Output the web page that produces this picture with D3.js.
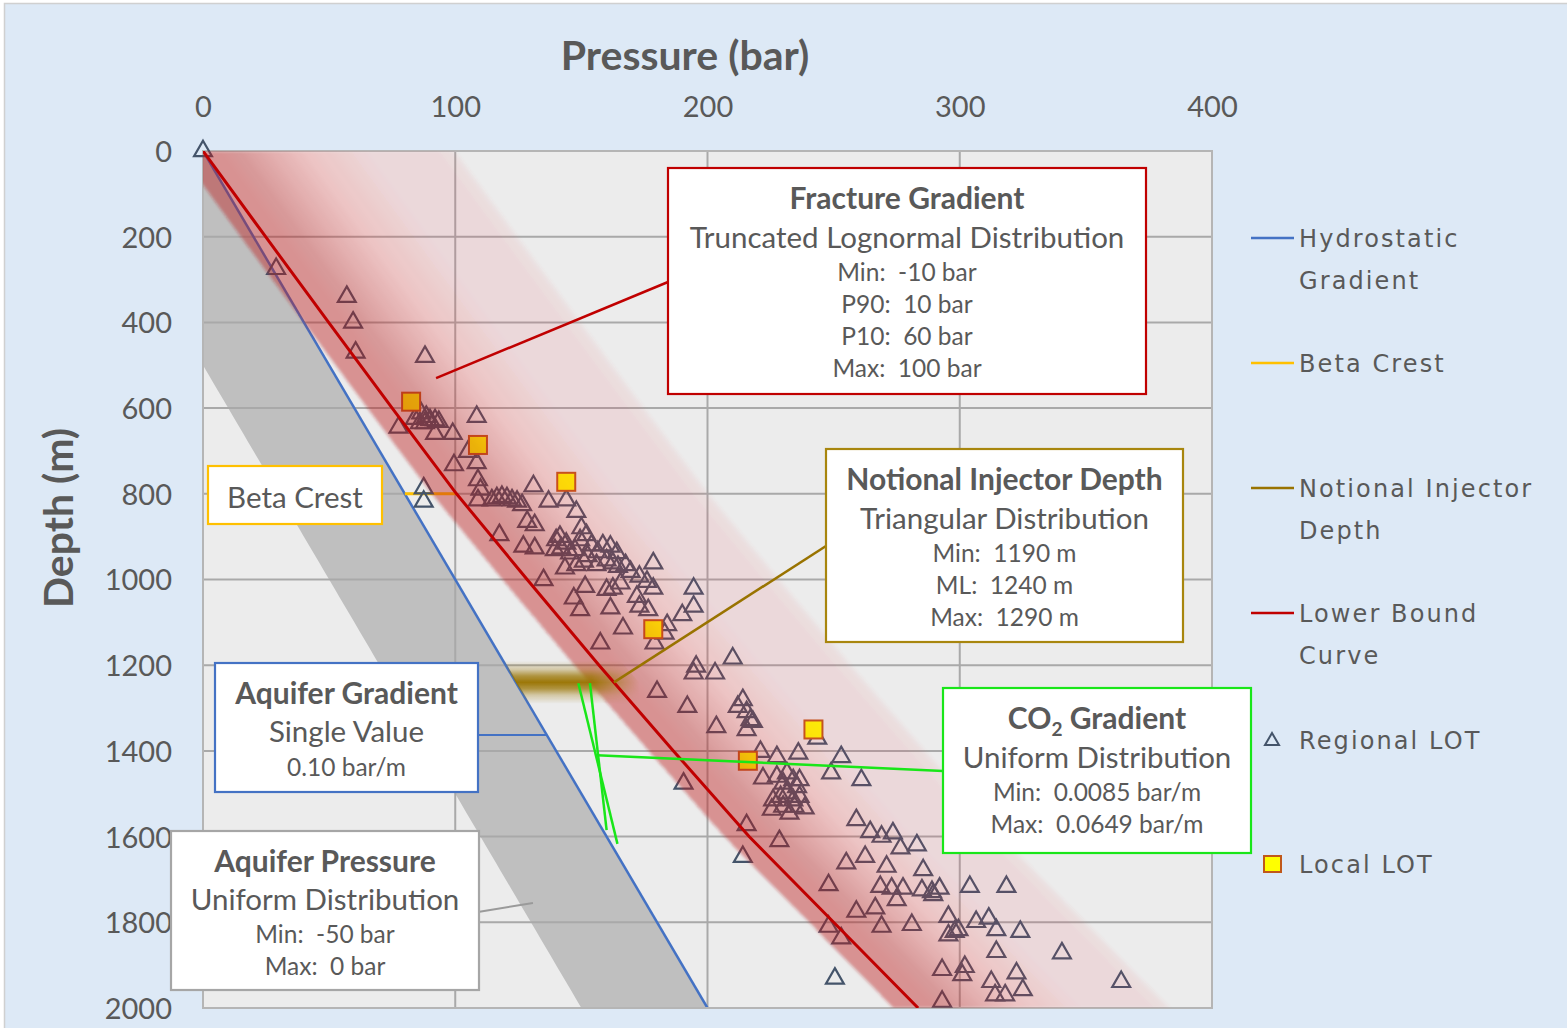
<!DOCTYPE html>
<html>
<head>
<meta charset="utf-8">
<script src="https://cdn.jsdelivr.net/npm/d3@7"></script>
<style>
  body { margin: 0; background: #ffffff; }
  svg { display: block; }
  text { font-family: Lato, "Open Sans", sans-serif; fill: #595959; }
  .legend text { font-family: "DejaVu Sans", Verdana, sans-serif; }
</style>
</head>
<body>
<svg id="chart" width="1567" height="1028"></svg>
<script>
// ---- axes ----
const pressureTicks = [0, 100, 200, 300, 400];
const depthTicks = [0, 200, 400, 600, 800, 1000, 1200, 1400, 1600, 1800, 2000];

// ---- hydrostatic / aquifer ----
const hydroGradient = 0.10;              // bar/m
const aquiferMin = -50, aquiferMax = 0;  // bar, relative to hydrostatic

// ---- lower bound fracture curve (depth m -> pressure bar) ----
const lbDepth    = [0, 200, 400, 600, 800, 1000, 1200, 1400, 1600, 1800, 2000];
const lbPressure = [0, 24.8, 49.8, 75, 100.5, 128.5, 157, 186.5, 216.5, 250, 283.5];

// ---- fracture gradient distribution (bar, relative to lower bound) ----
const fracMin = -10, fracP90 = 10, fracP10 = 60, fracMax = 100;

// ---- notional injector depth (m) ----
const injMin = 1190, injML = 1240, injMax = 1290;

// ---- CO2 gradient (bar/m) and drawn CO2 gradient lines ----
const co2Min = 0.0085, co2Max = 0.0649;
const co2LinePressure = [[148.8, 164.3], [153.4, 160.0]];
const co2LineDepth    = [[1242, 1617], [1242, 1585]];

// ---- beta crest depth (m) ----
const betaCrestDepth = 800;

// ---- regional leak-off tests ----
const regionalPressure = [
  0, 29, 57, 59.5, 60.5, 88,
  77.5, 84, 86.5, 88.5, 90, 92, 93.5, 86, 88, 92, 99, 108.5,
  99.5, 105, 108.5, 109, 110, 109, 87.5, 87.5,
  114.5, 116.5, 118.5, 120.5, 122.5, 124.5, 126.5, 131, 137, 144, 148,
  128.5, 131.5, 117.5, 127, 131.5, 140, 141.5, 144, 139.5, 142, 145.5, 150, 152, 149.5,
  154, 158.5, 161.5, 143.5, 148, 151, 156, 160, 162.5, 164.5, 167.5,
  135, 151.5, 160, 162.5, 165.5, 147, 149.5, 161.5,
  178.5, 173, 176, 178.5, 172, 173, 176.5, 194.5, 194.5, 190,
  166.5, 157.5, 184, 183, 179, 195.5, 194.5, 203,
  156.5, 152.5, 164, 147.5, 169.5,
  210, 180, 192, 203.5, 212, 214, 215.5, 217, 218, 215.5, 243.5,
  221, 227.5, 236, 253, 190.5, 222, 227.5, 231.5, 234, 236.5, 249, 261,
  226, 229, 231.5, 234, 236.5, 225.5, 230, 234.5, 238.5, 215.5, 259, 228.5, 264.5,
  230, 235.5, 232.5,
  214, 269, 273.5, 276.5, 283, 255, 262.5, 271, 285.5,
  248, 268.5, 273, 277.5, 275, 285, 289, 292, 289.5,
  259, 266.5, 269, 281, 295.5, 295.5, 298, 248, 253, 250.5, 293, 293,
  304, 318.5, 299.5, 306.5, 311.5, 314.5, 324, 314.5, 340.5, 301, 302, 312.5, 322.5, 325, 314, 318, 364
];
const regionalDepth = [
  0, 275, 340, 400, 470, 480,
  645, 625, 612, 620, 628, 628, 632, 635, 635, 660, 660, 620,
  733, 702, 728, 768, 790, 815, 787, 818,
  815, 810, 807, 810, 815, 818, 826, 782, 818, 815, 842,
  865, 873, 896, 923, 927, 908, 900, 916, 931, 927, 939, 880, 896, 908,
  920, 920, 923, 974, 966, 958, 966, 955, 962, 970, 966,
  1001, 1017, 1024, 1021, 1009, 1044, 1071, 1067,
  962, 993, 1005, 1021, 1040, 1063, 1071, 1021, 1063, 1083,
  1114, 1149, 1106, 1126, 1149, 1203, 1219, 1219,
  936, 945, 938, 931, 982,
  1184, 1262, 1297, 1344, 1297, 1281, 1309, 1328, 1332, 1351, 1371,
  1402, 1414, 1406, 1414, 1476, 1464, 1460, 1452, 1468, 1468, 1452, 1468,
  1515, 1507, 1499, 1515, 1507, 1537, 1530, 1530, 1534, 1573, 1561, 1610, 1589,
  1476, 1484, 1546,
  1647, 1600, 1592, 1627, 1620, 1662, 1647, 1670, 1678,
  1713, 1717, 1721, 1721, 1748, 1725, 1729, 1721, 1736,
  1775, 1767, 1810, 1806, 1787, 1830, 1822, 1810, 1837, 1931, 1911, 1985,
  1717, 1717, 1818, 1799, 1791, 1818, 1822, 1869, 1872, 1923, 1904, 1939, 1919, 1958, 1970, 1970, 1939
];

// ---- local leak-off tests ----
const localPressure = [82.5, 109, 144, 178.5, 242, 216];
const localDepth    = [585, 686, 772, 1116, 1350, 1423];

// ---- colours ----
const colHydro = "#4472c4", colBeta = "#ffc000", colInj = "#997300", colLB = "#c00000";
const colLOT = "#44546a", colCO2 = "#19e619";
const pinkDark = "rgb(200,45,55)", pinkLight = "rgb(218,95,105)";

const svg = d3.select("#chart");
const W = 1567, H = 1028;
const x = d3.scaleLinear().domain([0, 400]).range([203, 1212]);
const y = d3.scaleLinear().domain([0, 2000]).range([151, 1008]);
const lbAt = d3.scaleLinear().domain(lbDepth).range(lbPressure);
const hydroAt = d => d * hydroGradient;

// chart background
svg.append("rect").attr("x", 4.5).attr("y", 3.5).attr("width", W).attr("height", H)
  .attr("fill", "#dde9f6").attr("stroke", "#d0d0d0").attr("stroke-width", 1.5);

const defs = svg.append("defs");
defs.append("clipPath").attr("id", "plotClip").append("rect")
  .attr("x", x(0)).attr("y", y(0)).attr("width", x(400) - x(0)).attr("height", y(2000) - y(0));
const soft = defs.append("filter").attr("id", "soft")
  .attr("x", 0).attr("y", 0).attr("width", W).attr("height", H).attr("filterUnits", "userSpaceOnUse");
soft.append("feGaussianBlur").attr("stdDeviation", 1.8);

// plot area
svg.append("rect").attr("x", x(0)).attr("y", y(0)).attr("width", x(400) - x(0)).attr("height", y(2000) - y(0))
  .attr("fill", "#ececec");

const plot = svg.append("g").attr("clip-path", "url(#plotClip)");
const depthSamples = d3.range(0, 2000.001, 20);

// aquifer pressure range (grey)
const aquiferArea = d3.area()
  .y(d => y(d))
  .x0(d => x(hydroAt(d) + aquiferMin))
  .x1(d => x(hydroAt(d) + aquiferMax));
plot.append("path").datum(depthSamples).attr("d", aquiferArea).attr("fill", "#bfbfbf");

// grid
plot.append("g").selectAll("line").data(pressureTicks).join("line")
  .attr("x1", d => x(d)).attr("x2", d => x(d)).attr("y1", y(0)).attr("y2", y(2000))
  .attr("stroke", "#a9a9a9").attr("stroke-width", 2);
plot.append("g").selectAll("line").data(depthTicks).join("line")
  .attr("x1", x(0)).attr("x2", x(400)).attr("y1", d => y(d)).attr("y2", d => y(d))
  .attr("stroke", "#a9a9a9").attr("stroke-width", 2);
svg.append("rect").attr("x", x(0)).attr("y", y(0)).attr("width", x(400) - x(0)).attr("height", y(2000) - y(0))
  .attr("fill", "none").attr("stroke", "#b5b5b5").attr("stroke-width", 2);

// hydrostatic gradient
plot.append("line").attr("x1", x(0)).attr("y1", y(0)).attr("x2", x(hydroAt(2000))).attr("y2", y(2000))
  .attr("stroke", colHydro).attr("stroke-width", 2.5);

// beta crest
plot.append("line").attr("x1", x(hydroAt(betaCrestDepth))).attr("x2", x(lbAt(betaCrestDepth)))
  .attr("y1", y(betaCrestDepth)).attr("y2", y(betaCrestDepth))
  .attr("stroke", colBeta).attr("stroke-width", 3);

// leak-off tests
const markers = svg.append("g");
const tri = d3.symbol(d3.symbolTriangle, 138);
markers.append("g").selectAll("path").data(regionalPressure.map((p, i) => [p, regionalDepth[i]])).join("path")
  .attr("d", tri).attr("transform", d => `translate(${x(d[0])},${y(d[1])})`)
  .attr("fill", "none").attr("stroke", colLOT).attr("stroke-width", 2.2);
markers.append("g").selectAll("rect").data(localPressure.map((p, i) => [p, localDepth[i]])).join("rect")
  .attr("x", d => x(d[0]) - 9).attr("y", d => y(d[1]) - 9).attr("width", 18).attr("height", 18)
  .attr("fill", "#ffff00").attr("stroke", "#c0581a").attr("stroke-width", 2);

// fracture gradient band: exceedance shading of a truncated shifted lognormal
function erf(v) {
  const t = 1 / (1 + 0.3275911 * Math.abs(v));
  const r = 1 - (((((1.061405429 * t - 1.453152027) * t) + 1.421413741) * t - 0.284496736) * t + 0.254829592) * t * Math.exp(-v * v);
  return v >= 0 ? r : -r;
}
const normCdf = z => 0.5 * (1 + erf(z / Math.SQRT2));
const zP = 1.2816;
const mu = (Math.log(fracP90 - fracMin) + Math.log(fracP10 - fracMin)) / 2;
const sigma = (Math.log(fracP10 - fracMin) - Math.log(fracP90 - fracMin)) / (2 * zP);
const cdf = t => t <= fracMin ? 0 : normCdf((Math.log(t - fracMin) - mu) / sigma);
const cdfTr = t => (cdf(t) - cdf(fracMin)) / (cdf(fracMax) - cdf(fracMin));
const exceed = t => Math.max(0, 1 - cdfTr(t));
const shade = t => 0.03 + 0.55 * Math.pow(exceed(t), 0.34);
const pinkAt = d3.interpolateRgb(pinkLight, pinkDark);

const stepBar = 1;
const edges = d3.range(fracMin + stepBar, fracMax + 0.001, stepBar);
const targets = edges.map(r => shade(r - stepBar / 2));
const alphas = targets.map((T, j) => {
  const next = j + 1 < targets.length ? targets[j + 1] : 0;
  return 1 - (1 - T) / (1 - next);
});
const band = svg.append("g").attr("clip-path", "url(#plotClip)").append("g").attr("filter", "url(#soft)");
edges.forEach((r, j) => {
  const pts = depthSamples.map(d => [x(lbAt(d) + fracMin), y(d)])
    .concat(depthSamples.slice().reverse().map(d => [x(lbAt(d) + r), y(d)]));
  band.append("path").attr("d", "M" + pts.join("L") + "Z")
    .attr("fill", pinkAt(Math.pow(exceed(r), 0.6))).attr("fill-opacity", Math.max(0, alphas[j]));
});

const over = svg.append("g").attr("clip-path", "url(#plotClip)");

// notional injector depth band (triangular distribution)
const injGrad = defs.append("linearGradient").attr("id", "injGrad")
  .attr("gradientUnits", "userSpaceOnUse").attr("x1", 0).attr("x2", 0)
  .attr("y1", y(injMin)).attr("y2", y(injMax));
const mlPos = (injML - injMin) / (injMax - injMin);
[[0, 0], [0.2, 0.3], [0.35, 0.75], [mlPos, 1], [0.65, 0.75], [0.8, 0.3], [1, 0]].forEach(([o, a]) =>
  injGrad.append("stop").attr("offset", o).attr("stop-color", colInj).attr("stop-opacity", a * 0.97));
const injFade = defs.append("linearGradient").attr("id", "injFade")
  .attr("gradientUnits", "userSpaceOnUse").attr("y1", 0).attr("y2", 0)
  .attr("x1", x(hydroAt(injML) + 30)).attr("x2", x(lbAt(injML) + 10));
injFade.append("stop").attr("offset", 0).attr("stop-color", "#fff");
injFade.append("stop").attr("offset", 1).attr("stop-color", "#000");
defs.append("mask").attr("id", "injMask").attr("maskUnits", "userSpaceOnUse")
  .attr("x", 0).attr("y", 0).attr("width", W).attr("height", H)
  .append("rect").attr("x", 0).attr("y", 0).attr("width", W).attr("height", H).attr("fill", "url(#injFade)");
const injDepths = d3.range(injMin, injMax + 0.001, 5);
over.append("path")
  .attr("d", d3.area().y(d => y(d)).x0(d => x(hydroAt(d))).x1(d => x(lbAt(d) + 10))(injDepths))
  .attr("fill", "url(#injGrad)").attr("mask", "url(#injMask)");

// lower bound curve
over.append("path").datum(lbDepth)
  .attr("d", d3.line().x(d => x(lbAt(d))).y(d => y(d)))
  .attr("fill", "none").attr("stroke", colLB).attr("stroke-width", 3);

// CO2 gradient lines
co2LinePressure.forEach((pp, i) => {
  over.append("line").attr("x1", x(pp[0])).attr("y1", y(co2LineDepth[i][0]))
    .attr("x2", x(pp[1])).attr("y2", y(co2LineDepth[i][1]))
    .attr("stroke", colCO2).attr("stroke-width", 2.5);
});

// ---- axes ----
const xAxis = svg.append("g").attr("transform", "translate(0,107)")
  .call(d3.axisTop(x).tickValues(pressureTicks).tickFormat(d3.format("d")).tickSize(0).tickPadding(0));
xAxis.select(".domain").remove();
xAxis.selectAll("text").attr("y", 0).attr("dy", "0.36em").style("font-size", "29px").attr("fill", "#595959");
const yAxis = svg.append("g").attr("transform", "translate(172,0)")
  .call(d3.axisLeft(y).tickValues(depthTicks).tickFormat(d3.format("d")).tickSize(0).tickPadding(0));
yAxis.select(".domain").remove();
yAxis.selectAll("text").attr("x", 0).attr("dy", "0.36em").style("font-size", "29px").attr("fill", "#595959");

svg.append("text").attr("x", 685).attr("y", 55).attr("text-anchor", "middle").attr("dy", "0.36em")
  .style("font-size", "41px").style("font-weight", "bold").text("Pressure (bar)");
svg.append("text").attr("transform", "translate(58,518) rotate(-90)").attr("text-anchor", "middle").attr("dy", "0.36em")
  .style("font-size", "41px").style("font-weight", "bold").text("Depth (m)");

// ---- callouts ----
const callouts = [
  { from: [92.4, 530], to: [668, 282], color: colLB, w: 2.5 },
  { from: [lbAt(injML), injML], to: [826, 546], color: colInj, w: 2.5 },
  { from: [156.2, 1410], to: [943, 771], color: colCO2, w: 2.5 },
  { from: [hydroAt(1363), 1363], to: [478, 735], color: colHydro, w: 2 },
  { from: [130.8, 1755], to: [478, 912], color: "#9a9a9a", w: 2 }
];
svg.append("g").selectAll("line").data(callouts).join("line")
  .attr("x1", d => x(d.from[0])).attr("y1", d => y(d.from[1]))
  .attr("x2", d => d.to[0]).attr("y2", d => d.to[1])
  .attr("stroke", d => d.color).attr("stroke-width", d => d.w);

// ---- annotation boxes ----
const T1 = 30, T2 = 29.5, T3 = 24.5;
const boxes = [
  { x: 668, y: 168, w: 478, h: 226, stroke: "#c00000", lines: [
    ["Fracture Gradient", T1, true, 198], ["Truncated Lognormal Distribution", T2, false, 237],
    [`Min:  ${fracMin} bar`, T3, false, 272], [`P90:  ${fracP90} bar`, T3, false, 304],
    [`P10:  ${fracP10} bar`, T3, false, 336], [`Max:  ${fracMax} bar`, T3, false, 368]] },
  { x: 826, y: 449, w: 357, h: 193, stroke: "#a8860e", lines: [
    ["Notional Injector Depth", T1, true, 479], ["Triangular Distribution", T2, false, 518],
    [`Min:  ${injMin} m`, T3, false, 553], [`ML:  ${injML} m`, T3, false, 585], [`Max:  ${injMax} m`, T3, false, 617]] },
  { x: 943, y: 688, w: 308, h: 165, stroke: colCO2, co2: true, lines: [
    ["CO2 Gradient", T1, true, 718], ["Uniform Distribution", T2, false, 757],
    [`Min:  ${co2Min} bar/m`, T3, false, 792], [`Max:  ${co2Max} bar/m`, T3, false, 824]] },
  { x: 215, y: 663, w: 263, h: 129, stroke: colHydro, lines: [
    ["Aquifer Gradient", T1, true, 693], ["Single Value", T2, false, 731],
    [`${hydroGradient.toFixed(2)} bar/m`, T3, false, 767]] },
  { x: 171, y: 831, w: 308, h: 159, stroke: "#a6a6a6", lines: [
    ["Aquifer Pressure", T1, true, 861], ["Uniform Distribution", T2, false, 899],
    [`Min:  ${aquiferMin} bar`, T3, false, 934], [`Max:  ${aquiferMax} bar`, T3, false, 966]] },
  { x: 208, y: 466, w: 174, h: 58, stroke: colBeta, lines: [["Beta Crest", T2, false, 497]] }
];
const bg = svg.append("g").selectAll("g").data(boxes).join("g");
bg.append("rect").attr("x", d => d.x).attr("y", d => d.y).attr("width", d => d.w).attr("height", d => d.h)
  .attr("fill", "#ffffff").attr("stroke", d => d.stroke).attr("stroke-width", 2.2);
bg.each(function (b) {
  const g = d3.select(this);
  b.lines.forEach(([t, size, bold, ly], i) => {
    const tx = g.append("text").attr("x", b.x + b.w / 2).attr("y", ly).attr("dy", "0.36em")
      .attr("text-anchor", "middle").style("font-size", size + "px").style("white-space", "pre")
      .style("font-weight", bold ? "bold" : "normal").attr("fill", "#404040");
    if (b.co2 && i === 0) {
      tx.append("tspan").text("CO");
      tx.append("tspan").text("2").style("font-size", "19px").attr("dy", "7");
      tx.append("tspan").text(" Gradient").attr("dy", "-7");
    } else {
      tx.text(t);
    }
  });
});

// ---- legend ----
const legend = svg.append("g").attr("class", "legend");
const legendItems = [
  { type: "line", color: colHydro, lines: ["Hydrostatic", "Gradient"], y: 238 },
  { type: "line", color: colBeta, lines: ["Beta Crest"], y: 363 },
  { type: "line", color: colInj, lines: ["Notional Injector", "Depth"], y: 488 },
  { type: "line", color: colLB, lines: ["Lower Bound", "Curve"], y: 613 },
  { type: "tri", lines: ["Regional LOT"], y: 740 },
  { type: "sq", lines: ["Local LOT"], y: 864 }
];
legendItems.forEach(it => {
  if (it.type === "line") {
    legend.append("line").attr("x1", 1251).attr("x2", 1294).attr("y1", it.y).attr("y2", it.y)
      .attr("stroke", it.color).attr("stroke-width", 2.5);
  } else if (it.type === "tri") {
    legend.append("path").attr("d", d3.symbol(d3.symbolTriangle, 85)()).attr("transform", `translate(1272,${it.y + 1})`)
      .attr("fill", "none").attr("stroke", colLOT).attr("stroke-width", 2);
  } else {
    legend.append("rect").attr("x", 1264).attr("y", it.y - 8).attr("width", 17).attr("height", 16)
      .attr("fill", "#ffff00").attr("stroke", "#c0581a").attr("stroke-width", 2);
  }
  it.lines.forEach((t, i) => {
    legend.append("text").attr("x", 1299).attr("y", it.y + i * 42).attr("dy", "0.36em")
      .style("font-size", "24px").style("letter-spacing", "2.1px").attr("fill", "#595959").text(t);
  });
});
</script>
</body>
</html>
